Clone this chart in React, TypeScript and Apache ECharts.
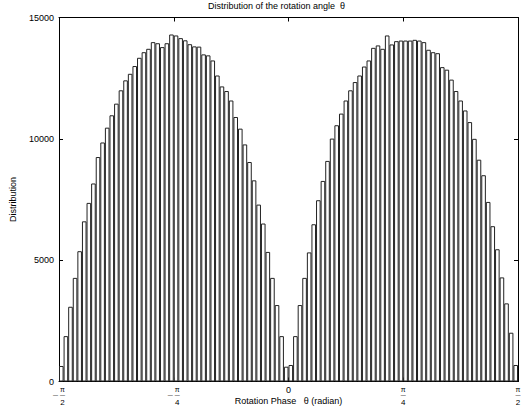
import React, { useEffect, useRef } from "react";
import * as echarts from "echarts";

// Histogram counts, 100 equal bins over [-pi/2, pi/2]
const leftHalfCounts = [
  640, 1870, 3080, 4270, 5370, 6600, 7360, 8160, 9250, 9850,
  10460, 10970, 11450, 12000, 12410, 12680, 13000, 13340, 13570, 13710,
  13985, 13940, 13780, 13940, 14300, 14260, 14150, 14060, 13900, 13810,
  13800, 13480, 13440, 13230, 12610, 12160, 11970, 11580, 10900, 10420,
  9770, 9045, 8290, 7290, 6510, 5340, 4270, 3150, 1870, 610,
];
const rightHalfCounts = [
  680, 1870, 3150, 4270, 5320, 6480, 7470, 8265, 9090, 10010,
  10560, 11040, 11580, 12000, 12340, 12610, 12980, 13230, 13750, 13850,
  13710, 14260, 13890, 14025, 14050, 14050, 14050, 14080, 14050, 13985,
  13670, 13570, 13530, 12955, 12850, 12440, 11970, 11580, 11170, 10690,
  10000, 9140, 8500, 7400, 6400, 5450, 4290, 3220, 2010, 680,
];
const counts = [...leftHalfCounts, ...rightHalfCounts];
const binNames = counts.map((_, i) => `bin${i + 1}`);

// x axis in units of pi
const xMin = -0.5;
const xMax = 0.5;
const xStep = 0.25;
const xTickKeys = [-0.5, -0.25, 0, 0.25, 0.5];
const xTickLabels = [
  "{fp|π}\n{m|—}{b|—}\n{dp|2}",
  "{fp|π}\n{m|—}{b|—}\n{dp|4}",
  "{z|0}",
  "{f|π}\n{b|—}\n{d|4}",
  "{f|π}\n{b|—}\n{d|2}",
];
const yMin = 0;
const yMax = 15000;
const yStep = 5000;

const titleText = "Distribution of the rotation angle  θ";
const xName = "Rotation Phase   θ (radian)";
const yName = "Distribution";

const FONT = "Liberation Sans";

export default function App() {
  const ref = useRef<HTMLDivElement>(null);
  useEffect(() => {
    document.body.style.margin = "0";
    if (!ref.current) return;
    const chart = echarts.init(ref.current, undefined, { renderer: "svg" });
    const axisLine = { show: true, onZero: false, lineStyle: { color: "#000", width: 1 } };
    const tick = { show: true, inside: true, length: 4, lineStyle: { color: "#000" } };
    const fmtX = (v: number) => {
      let best = 0;
      xTickKeys.forEach((k, i) => {
        if (Math.abs(k - v) < Math.abs(xTickKeys[best] - v)) best = i;
      });
      return xTickLabels[best];
    };
    const base = { fontFamily: FONT, color: "#000" };
    chart.setOption({
      animation: false,
      backgroundColor: "#fff",
      title: {
        text: titleText,
        left: 208,
        top: 1,
        padding: 0,
        textStyle: { fontSize: 9, fontWeight: "normal", color: "#000", fontFamily: FONT },
      },
      grid: {
        left: 59,
        right: 5,
        top: 17.5,
        bottom: 32.5,
        containLabel: false,
        outerBoundsMode: "none",
      },
      xAxis: [
        {
          type: "category",
          data: binNames,
          boundaryGap: true,
          show: false,
        },
        {
          type: "value",
          position: "bottom",
          min: xMin,
          max: xMax,
          interval: xStep,
          axisLine,
          axisTick: tick,
          splitLine: { show: false },
          axisLabel: {
            show: true,
            margin: 4,
            formatter: fmtX,
            color: "#000",
            fontFamily: FONT,
            hideOverlap: false,
            rich: {
              f: { ...base, fontSize: 7, lineHeight: 7 },
              fp: { ...base, fontSize: 7, lineHeight: 7, padding: [0, 0, 0, 7] },
              b: { ...base, fontSize: 5, lineHeight: 5 },
              m: { ...base, fontSize: 5, lineHeight: 5, padding: [0, 2, 0, 0] },
              d: { ...base, fontSize: 8, lineHeight: 9 },
              dp: { ...base, fontSize: 8, lineHeight: 9, padding: [0, 0, 0, 7] },
              z: { ...base, fontSize: 9, lineHeight: 9 },
            },
          },
          name: xName,
          nameLocation: "middle",
          nameGap: 15,
          nameMoveOverlap: false,
          nameTextStyle: { fontSize: 9, color: "#000", fontFamily: FONT },
        },
        {
          type: "value",
          position: "top",
          min: xMin,
          max: xMax,
          interval: xStep,
          axisLine,
          axisTick: tick,
          axisLabel: { show: false },
          splitLine: { show: false },
        },
      ],
      yAxis: [
        {
          type: "value",
          position: "left",
          min: yMin,
          max: yMax,
          interval: yStep,
          axisLine,
          axisTick: tick,
          splitLine: { show: false },
          axisLabel: {
            fontSize: 9,
            color: "#000",
            fontFamily: FONT,
            margin: 5,
            formatter: (v: number) => String(v),
          },
          name: yName,
          nameLocation: "middle",
          nameRotate: 90,
          nameGap: 42,
          nameMoveOverlap: false,
          nameTextStyle: { fontSize: 9, color: "#000", fontFamily: FONT },
        },
        {
          type: "value",
          position: "right",
          min: yMin,
          max: yMax,
          interval: yStep,
          axisLine,
          axisTick: tick,
          axisLabel: { show: false },
          splitLine: { show: false },
        },
      ],
      series: [
        {
          type: "bar",
          xAxisIndex: 0,
          yAxisIndex: 0,
          data: counts,
          barWidth: "100%",
          barCategoryGap: "0%",
          itemStyle: { color: "#fff", borderColor: "#222", borderWidth: 1 },
          silent: true,
        },
      ],
    });
    return () => chart.dispose();
  }, []);
  return <div ref={ref} style={{ width: 523, height: 414 }} />;
}
